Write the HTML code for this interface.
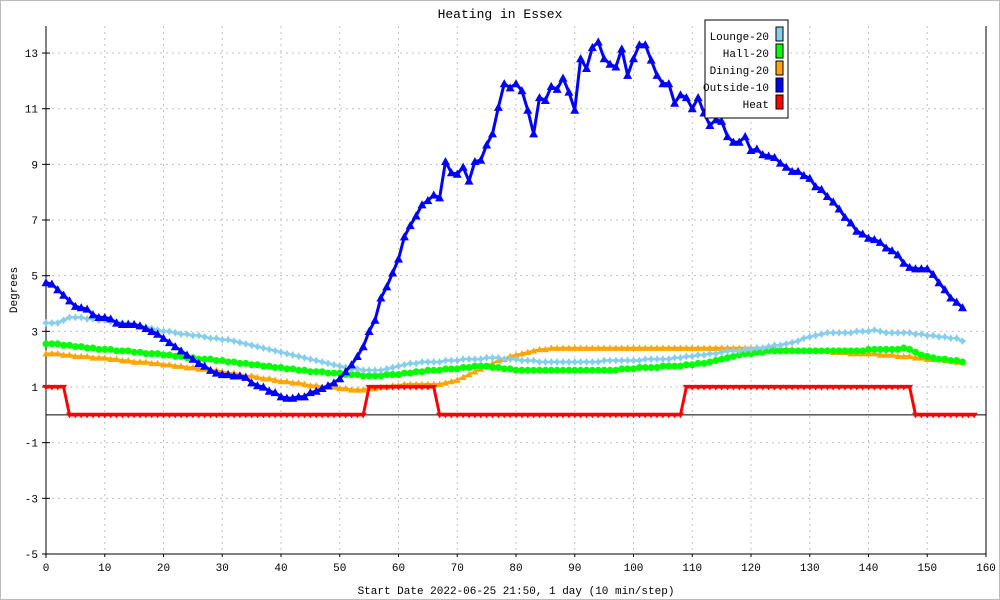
<!DOCTYPE html>
<html><head><meta charset="utf-8"><style>
html,body{margin:0;padding:0;background:#fff}
svg{display:block}
text{font-family:"Liberation Mono",monospace;font-size:11px;fill:#000}
</style></head><body>
<svg id="chart" width="1000" height="600" viewBox="0 0 1000 600" xmlns="http://www.w3.org/2000/svg">
<rect x="0.5" y="0.5" width="999" height="599" fill="#fff" stroke="#bbb"/>
<text x="500" y="18" text-anchor="middle" font-size="13" style="font-size:13px">Heating in Essex</text>
<text transform="translate(17,290) rotate(-90)" text-anchor="middle">Degrees</text>
<text x="516" y="594" text-anchor="middle">Start Date 2022-06-25 21:50, 1 day (10 min/step)</text>
<g id="grid"></g>
<g id="axes"></g>
<g id="series"></g>
<g>
<rect x="705" y="20" width="83" height="98" fill="#fff" stroke="#000"/>
<g><text x="769" y="40" text-anchor="end">Lounge-20</text><rect x="776" y="27" width="7" height="14" fill="#87ceeb" stroke="#000"/></g>
<g><text x="769" y="57" text-anchor="end">Hall-20</text><rect x="776" y="44" width="7" height="14" fill="#00ff00" stroke="#000"/></g>
<g><text x="769" y="74" text-anchor="end">Dining-20</text><rect x="776" y="61" width="7" height="14" fill="#ffa500" stroke="#000"/></g>
<g><text x="769" y="91" text-anchor="end">Outside-10</text><rect x="776" y="78" width="7" height="14" fill="#0000ff" stroke="#000"/></g>
<g><text x="769" y="108" text-anchor="end">Heat</text><rect x="776" y="95" width="7" height="14" fill="#ff0000" stroke="#000"/></g>
</g>
</svg>
<script>
const xTicks=[0,10,20,30,40,50,60,70,80,90,100,110,120,130,140,150,160];
const yTicks=[-5,-3,-1,1,3,5,7,9,11,13];
const lounge=[3.3,3.3,3.3,3.4,3.5,3.5,3.5,3.45,3.45,3.4,
3.4,3.35,3.35,3.3,3.3,3.25,3.2,3.15,3.1,3.05,
3.0,3.0,2.95,2.9,2.9,2.85,2.85,2.8,2.75,2.75,
2.7,2.7,2.65,2.6,2.55,2.5,2.45,2.4,2.35,2.3,
2.25,2.2,2.15,2.1,2.05,2.0,1.95,1.9,1.85,1.8,
1.75,1.7,1.65,1.65,1.6,1.6,1.6,1.6,1.65,1.7,
1.75,1.8,1.85,1.85,1.9,1.9,1.9,1.9,1.95,1.95,
1.95,2.0,2.0,2.0,2.0,2.05,2.05,2.05,2.0,2.0,
2.0,1.95,1.95,1.95,1.9,1.9,1.9,1.9,1.9,1.9,
1.9,1.9,1.9,1.9,1.9,1.95,1.95,1.95,1.95,1.95,
1.95,1.95,2.0,2.0,2.0,2.0,2.0,2.05,2.05,2.1,
2.1,2.15,2.15,2.2,2.2,2.25,2.3,2.3,2.3,2.35,
2.35,2.4,2.4,2.45,2.5,2.5,2.55,2.6,2.65,2.75,
2.8,2.85,2.9,2.95,2.95,2.95,2.95,2.95,3.0,3.0,
3.0,3.05,3.0,2.95,2.95,2.95,2.95,2.95,2.9,2.9,
2.85,2.85,2.8,2.8,2.75,2.75,2.65];
const hall=[2.55,2.55,2.55,2.5,2.5,2.45,2.45,2.4,2.4,2.35,
2.35,2.35,2.3,2.3,2.3,2.25,2.25,2.2,2.2,2.2,
2.15,2.15,2.1,2.1,2.05,2.05,2.0,2.0,2.0,1.95,
1.95,1.9,1.9,1.85,1.85,1.8,1.8,1.75,1.75,1.7,
1.7,1.65,1.65,1.6,1.6,1.55,1.55,1.55,1.5,1.5,
1.5,1.45,1.45,1.45,1.4,1.4,1.4,1.4,1.45,1.45,
1.45,1.5,1.5,1.55,1.55,1.6,1.6,1.6,1.65,1.65,
1.65,1.7,1.7,1.75,1.75,1.75,1.7,1.7,1.65,1.65,
1.6,1.6,1.6,1.6,1.6,1.6,1.6,1.6,1.6,1.6,
1.6,1.6,1.6,1.6,1.6,1.6,1.6,1.6,1.65,1.65,
1.65,1.7,1.7,1.7,1.7,1.75,1.75,1.75,1.75,1.8,
1.8,1.85,1.85,1.9,1.95,2.0,2.05,2.1,2.15,2.2,
2.2,2.25,2.25,2.3,2.3,2.3,2.3,2.3,2.3,2.3,
2.3,2.3,2.3,2.3,2.3,2.3,2.3,2.3,2.3,2.3,
2.35,2.35,2.35,2.35,2.35,2.35,2.4,2.35,2.25,2.15,
2.1,2.05,2.0,2.0,1.95,1.95,1.9];
const dining=[2.2,2.2,2.2,2.15,2.15,2.1,2.1,2.1,2.05,2.05,
2.05,2.0,2.0,1.95,1.95,1.9,1.9,1.9,1.85,1.85,
1.8,1.8,1.75,1.75,1.7,1.7,1.65,1.65,1.6,1.6,
1.55,1.5,1.5,1.45,1.4,1.4,1.35,1.3,1.3,1.25,
1.2,1.2,1.15,1.15,1.1,1.05,1.05,1.0,1.0,1.0,
0.95,0.95,0.9,0.9,0.9,0.95,0.95,1.0,1.0,1.05,
1.05,1.1,1.1,1.1,1.1,1.1,1.1,1.1,1.15,1.2,
1.25,1.35,1.45,1.55,1.65,1.75,1.85,1.95,2.0,2.1,
2.15,2.2,2.25,2.3,2.35,2.35,2.4,2.4,2.4,2.4,
2.4,2.4,2.4,2.4,2.4,2.4,2.4,2.4,2.4,2.4,
2.4,2.4,2.4,2.4,2.4,2.4,2.4,2.4,2.4,2.4,
2.4,2.4,2.4,2.4,2.4,2.4,2.4,2.4,2.4,2.4,
2.4,2.4,2.4,2.4,2.4,2.35,2.35,2.35,2.3,2.3,
2.3,2.3,2.3,2.3,2.25,2.25,2.25,2.2,2.2,2.2,
2.2,2.2,2.15,2.15,2.15,2.1,2.1,2.1,2.05,2.05,
2.0,2.0,2.0,1.95,1.95,1.9,1.9];
const outside=[4.75,4.7,4.5,4.3,4.1,3.9,3.85,3.8,3.6,3.5,
3.5,3.45,3.3,3.25,3.25,3.25,3.2,3.1,3.0,2.9,
2.75,2.6,2.45,2.3,2.15,2.0,1.85,1.75,1.6,1.5,
1.45,1.45,1.4,1.4,1.35,1.15,1.05,1.0,0.85,0.8,
0.65,0.6,0.6,0.65,0.65,0.8,0.85,0.95,1.05,1.15,
1.3,1.55,1.8,2.1,2.45,3.0,3.4,4.2,4.6,5.1,
5.6,6.4,6.8,7.15,7.55,7.7,7.9,7.8,9.1,8.7,
8.65,8.9,8.4,9.1,9.15,9.7,10.1,11.05,11.9,11.75,
11.9,11.65,10.95,10.1,11.4,11.3,11.8,11.7,12.1,11.6,
10.95,12.8,12.45,13.2,13.4,12.8,12.6,12.5,13.15,12.2,
12.8,13.3,13.3,12.75,12.2,11.9,11.9,11.2,11.5,11.4,
11.0,11.4,10.85,10.4,10.6,10.55,10.0,9.8,9.8,10.0,
9.5,9.55,9.35,9.3,9.25,9.05,8.9,8.75,8.75,8.6,
8.5,8.2,8.1,7.85,7.65,7.4,7.1,6.9,6.6,6.5,
6.35,6.3,6.2,6.0,5.9,5.75,5.45,5.3,5.25,5.25,
5.25,5.05,4.75,4.5,4.2,4.05,3.85];
const heat=[1,1,1,1,0,0,0,0,0,0,
0,0,0,0,0,0,0,0,0,0,0,0,0,0,0,0,0,0,0,0,
0,0,0,0,0,0,0,0,0,0,0,0,0,0,0,0,0,0,0,0,
0,0,0,0,0,1,1,1,1,1,1,1,1,1,1,1,1,0,0,0,
0,0,0,0,0,0,0,0,0,0,0,0,0,0,0,0,0,0,0,0,
0,0,0,0,0,0,0,0,0,0,0,0,0,0,0,0,0,0,0,1,
1,1,1,1,1,1,1,1,1,1,1,1,1,1,1,1,1,1,1,1,
1,1,1,1,1,1,1,1,1,1,1,1,1,1,1,1,1,1,0,0,
0,0,0,0,0,0,0,0,0];

const X0=46,X1=986,Y0=554,Y1=26;
function xs(i){return X0+i*(X1-X0)/160;}
function ys(v){return 387-(v-1)*27.83;}
const NS='http://www.w3.org/2000/svg';
function mk(tag,parent){const e=document.createElementNS(NS,tag);parent.appendChild(e);return e;}
const grid=document.getElementById('grid'),axes=document.getElementById('axes'),ser=document.getElementById('series');
xTicks.forEach(t=>{
  const x=xs(t);
  if(t>0&&t<160){const l=mk('line',grid);
    
    
    l.setAttribute('x1',x);l.setAttribute('x2',x);l.setAttribute('y1',Y1);l.setAttribute('y2',Y0);
    l.setAttribute('stroke','#c0c0c0');l.setAttribute('stroke-dasharray','2,4');}
  const tk=mk('line',axes);
  
  
  tk.setAttribute('x1',x);tk.setAttribute('x2',x);tk.setAttribute('y1',Y0);tk.setAttribute('y2',Y0+3);tk.setAttribute('stroke','#000');
  const tx=mk('text',axes);
  
  
  tx.setAttribute('x',x);tx.setAttribute('y',Y0+17);tx.setAttribute('text-anchor','middle');tx.textContent=t;
});
yTicks.forEach(t=>{
  const y=ys(t);
  const l=mk('line',grid);
  
  
  l.setAttribute('x1',X0);l.setAttribute('x2',X1);l.setAttribute('y1',y);l.setAttribute('y2',y);
  l.setAttribute('stroke','#c0c0c0');l.setAttribute('stroke-dasharray','2,4');
  const tk=mk('line',axes);
  
  
  tk.setAttribute('x1',X0-4);tk.setAttribute('x2',X0+4);tk.setAttribute('y1',y);tk.setAttribute('y2',y);tk.setAttribute('stroke','#000');
  const tx=mk('text',axes);
  
  
  tx.setAttribute('x',X0-8);tx.setAttribute('y',y+4);tx.setAttribute('text-anchor','end');tx.textContent=t;
});
[[X0,Y1,X0,Y0+4],[X1,Y1,X1,Y0],[X0,Y0,X1,Y0],[X0,ys(0),X1,ys(0)]].forEach((c,k)=>{
  const l=mk('line',axes);
  
  
  l.setAttribute('x1',c[0]);l.setAttribute('y1',c[1]);l.setAttribute('x2',c[2]);l.setAttribute('y2',c[3]);l.setAttribute('stroke','#000');
});
function draw(name,data,color,marker,sz,w){
  const g=mk('g',ser);
  
  
  const p=mk('polyline',g);
  
  
  p.setAttribute('points',data.map((v,i)=>xs(i)+','+ys(v)).join(' '));
  p.setAttribute('fill','none');p.setAttribute('stroke',color);p.setAttribute('stroke-width',w);p.setAttribute('stroke-linejoin','round');
  data.forEach((v,i)=>{
    const x=xs(i),y=ys(v);let m;
    if(marker==='circle'){m=mk('circle',g);m.setAttribute('cx',x);m.setAttribute('cy',y);m.setAttribute('r',sz);}
    else if(marker==='up'){m=mk('polygon',g);m.setAttribute('points',`${x},${y-sz} ${x-sz},${y+sz*0.8} ${x+sz},${y+sz*0.8}`);}
    else if(marker==='down'){m=mk('polygon',g);m.setAttribute('points',`${x},${y+sz} ${x-sz},${y-sz*0.6} ${x+sz},${y-sz*0.6}`);}
    else {m=mk('polygon',g);m.setAttribute('points',`${x},${y-sz} ${x+sz*0.4},${y-sz*0.4} ${x+sz},${y} ${x+sz*0.4},${y+sz*0.4} ${x},${y+sz} ${x-sz*0.4},${y+sz*0.4} ${x-sz},${y} ${x-sz*0.4},${y-sz*0.4}`);}
    
    
    m.setAttribute('fill',color);
  });
}
draw('dining',dining,'#ffa500','up',3.5,2.5);
draw('hall',hall,'#00ff00','circle',3.5,2.5);
draw('lounge',lounge,'#87ceeb','star',4,2.5);
draw('outside',outside,'#0000ff','up',4.5,3);
draw('heat',heat,'#ff0000','down',3.5,3);
</script>
</body></html>
